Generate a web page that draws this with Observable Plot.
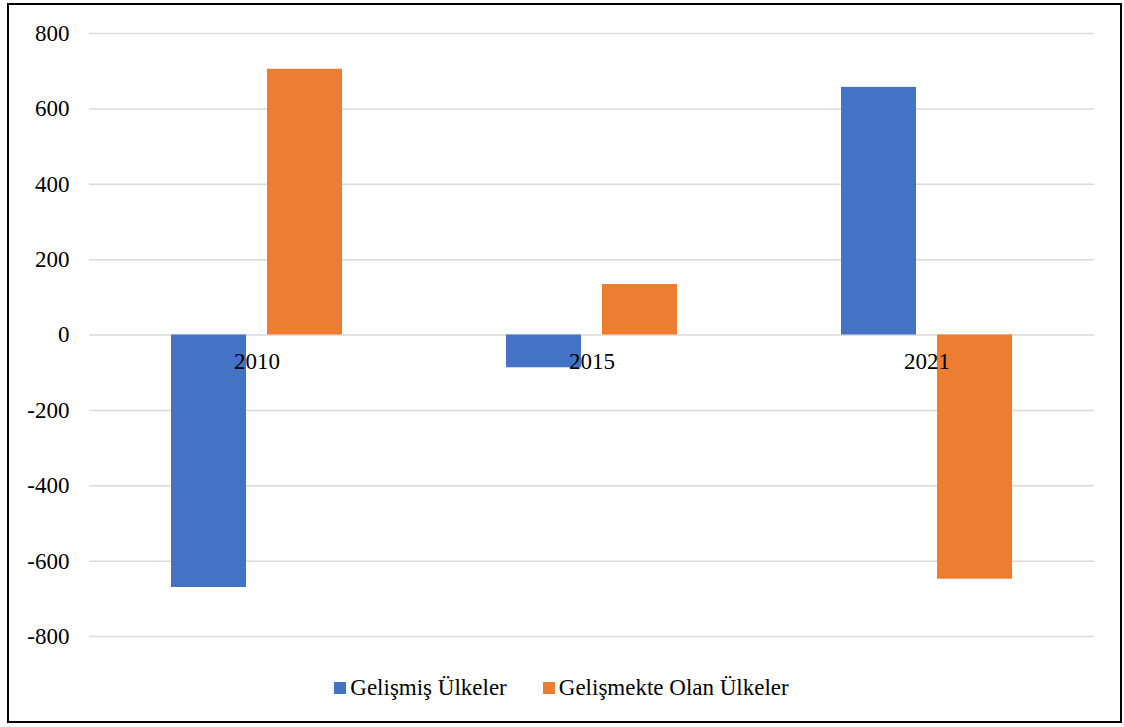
<!DOCTYPE html>
<html>
<head>
<meta charset="utf-8">
<script src="https://cdn.jsdelivr.net/npm/d3@7"></script>
<script src="https://cdn.jsdelivr.net/npm/@observablehq/plot@0.6"></script>
<style>
  html, body { margin: 0; padding: 0; background: #fff; }
  #frame {
    position: absolute; left: 7px; top: 3px;
    width: 1111px; height: 716px;
    border: 2.5px solid #000;
    background: #fff;
  }
  #chart { position: absolute; left: 0; top: 0; }
  #legend {
    position: absolute; left: 0; right: 6px; top: 670px;
    display: flex; justify-content: center; gap: 36px;
    font-family: "Liberation Serif", "Times New Roman", serif;
    font-size: 23px; color: #000;
  }
  #legend .item { display: flex; align-items: center; gap: 4px; }
  #legend .sw { width: 12px; height: 12px; display: inline-block; }
</style>
</head>
<body>
<div id="frame">
  <div id="chart"></div>
  <div id="legend"></div>
</div>
<script>
// Years on the category axis
const years = ["2010", "2015", "2021"];
// Series names and colours
const series = ["Gelişmiş Ülkeler", "Gelişmekte Olan Ülkeler"];
const colors = ["#4472C4", "#ED7D31"];
// Values per year for each series
const developed = [-670, -87, 657];
const developing = [705, 134, -648];
// Value axis ticks
const yTicks = [-800, -600, -400, -200, 0, 200, 400, 600, 800];

const rows = years.flatMap((y, i) => [
  {year: y, series: series[0], value: developed[i]},
  {year: y, series: series[1], value: developing[i]}
]);

const font = "'Liberation Serif', 'Times New Roman', serif";

const chart = Plot.plot({
  width: 1111,
  height: 650,
  marginLeft: 80,
  marginRight: 26,
  marginTop: 28,
  marginBottom: 19,
  style: {fontFamily: font, fontSize: "23px", color: "#000", background: "transparent"},
  fx: {domain: years, padding: 0, axis: null},
  x: {domain: series, paddingInner: 0.21875, paddingOuter: 0.854, axis: null},
  y: {domain: [-800, 800], ticks: yTicks, axis: null},
  color: {domain: series, range: colors},
  marks: [
    // horizontal gridlines repeated in every year panel
    Plot.ruleY(yTicks, {stroke: "#d9d9d9", strokeWidth: 1.5}),
    Plot.barY(rows, {fx: "year", x: "series", y: "value", fill: "series"}),
    // year labels sit just under the zero line
    Plot.text(years, {fx: d => d, y: () => 0, text: d => d, dy: 27, fill: "#000",
      fontFamily: font, fontSize: 23}),
    Plot.axisY(yTicks, {
      tickSize: 0, tickPadding: 20, tickFormat: d => String(d),
      fill: "#000", fontSize: 23, fontFamily: font, label: null
    })
  ]
});
document.getElementById("chart").appendChild(chart);

const legend = document.getElementById("legend");
series.forEach((s, i) => {
  const item = document.createElement("div");
  item.className = "item";
  const sw = document.createElement("span");
  sw.className = "sw";
  sw.style.background = colors[i];
  const label = document.createElement("span");
  label.textContent = s;
  item.appendChild(sw);
  item.appendChild(label);
  legend.appendChild(item);
});
</script>
</body>
</html>
